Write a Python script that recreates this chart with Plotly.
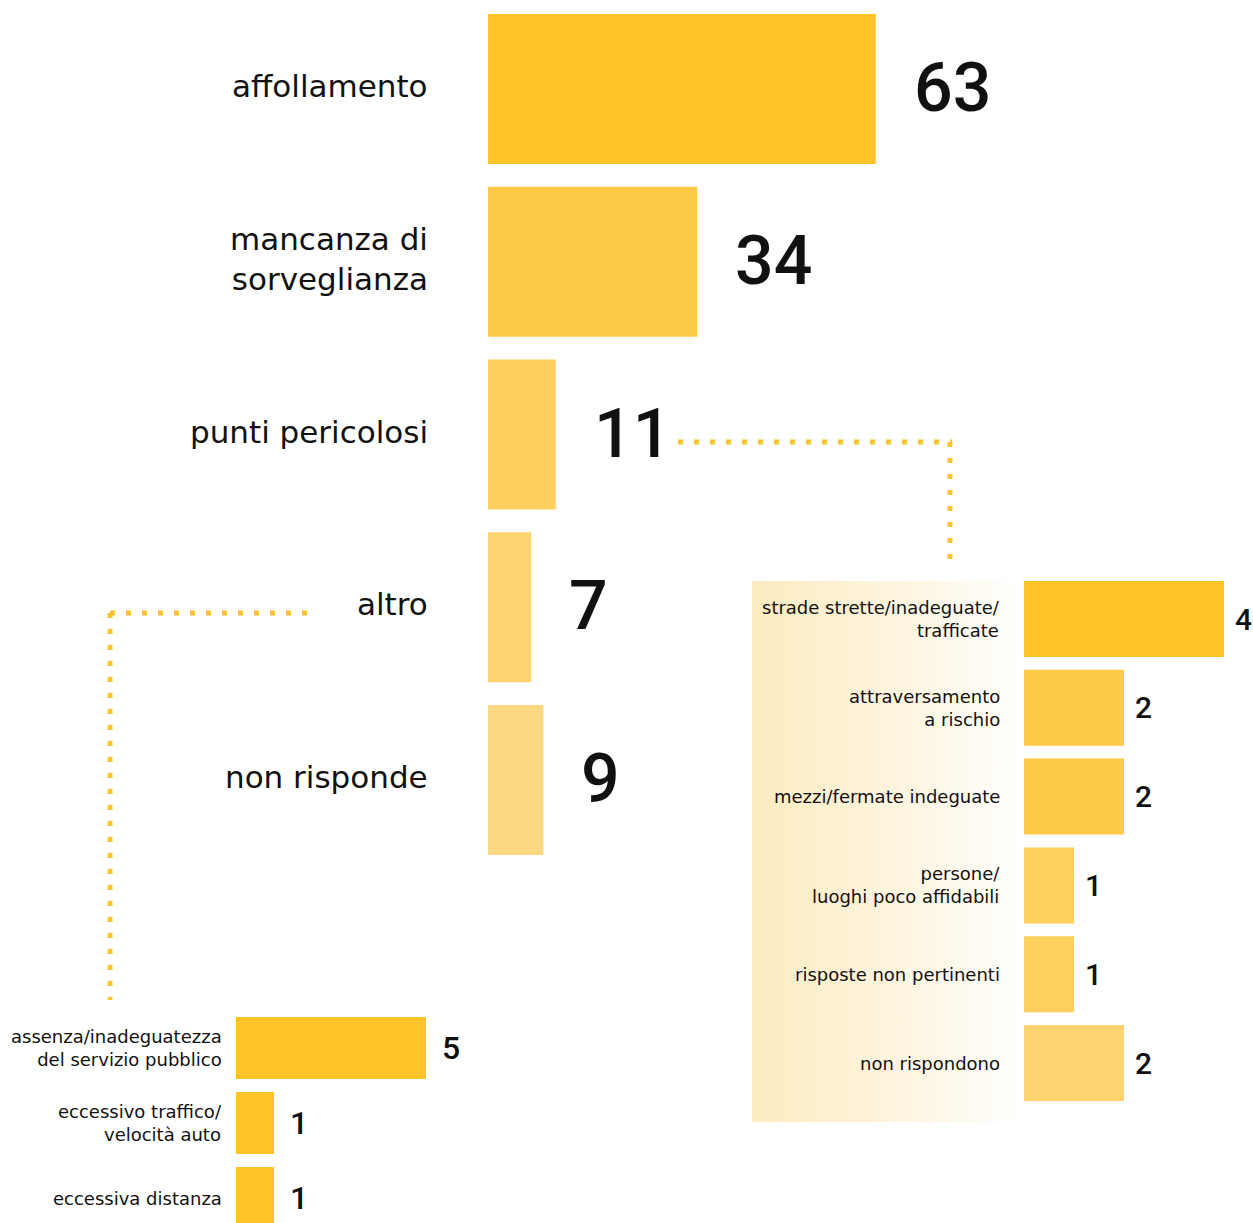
import plotly.graph_objects as go

W, H = 1253, 1223

# ---------------- data ----------------
main_categories = ["affollamento", "mancanza di sorveglianza", "punti pericolosi", "altro", "non risponde"]
main_labels = ["affollamento", "mancanza di<br>sorveglianza", "punti pericolosi", "altro", "non risponde"]
main_values = [63, 34, 11, 7, 9]
main_colors = ["#FDC329", "#FECA46", "#FECF5C", "#FDD470", "#FCD883"]

pp_categories = ["strade strette/inadeguate/trafficate", "attraversamento a rischio",
                 "mezzi/fermate indeguate", "persone/luoghi poco affidabili",
                 "risposte non pertinenti", "non rispondono"]
pp_labels = ["strade strette/inadeguate/<br>trafficate", "attraversamento<br>a rischio",
             "mezzi/fermate indeguate", "persone/<br>luoghi poco affidabili",
             "risposte non pertinenti", "non rispondono"]
pp_values = [4, 2, 2, 1, 1, 2]
pp_colors = ["#FDC329", "#FECA48", "#FECA48", "#FED05E", "#FED05E", "#FDD372"]

alt_categories = ["assenza/inadeguatezza del servizio pubblico",
                  "eccessivo traffico/velocità auto", "eccessiva distanza"]
alt_labels = ["assenza/inadeguatezza<br>del servizio pubblico",
              "eccessivo traffico/<br>velocità auto", "eccessiva distanza"]
alt_values = [5, 1, 1]
alt_colors = ["#FDC329", "#FDC329", "#FDC329"]

# ---------------- style ----------------
LABEL_FONT = "DejaVu Sans, Roboto, sans-serif"
NUM_FONT = "Roboto, DejaVu Sans Condensed, sans-serif"
TXT = "#111111"
DOT = "#FDC329"


def px(x):
    return x / W


def py(y):
    return 1 - y / H


fig = go.Figure()

# gradient background panel (decoration, pixel axes x/y)
fig.add_trace(go.Scatter(
    x=[752, 1024, 1024, 752, 752], y=[581, 581, 1122, 1122, 581],
    mode="lines", fill="toself", line=dict(width=0),
    fillgradient=dict(type="horizontal",
                      colorscale=[[0, "#FDEBC0"], [0.55, "#FEF5E0"], [1, "#FFFFFF"]]),
    hoverinfo="skip", showlegend=False, xaxis="x", yaxis="y"))

# main chart
fig.add_trace(go.Bar(orientation="h", x=main_values, y=main_categories,
                     marker=dict(color=main_colors, line=dict(width=0)),
                     width=0.868, xaxis="x2", yaxis="y2", showlegend=False))
# right detail chart
fig.add_trace(go.Bar(orientation="h", x=pp_values, y=pp_categories,
                     marker=dict(color=pp_colors, line=dict(width=0)),
                     width=0.856, xaxis="x3", yaxis="y3", showlegend=False))
# bottom-left detail chart
fig.add_trace(go.Bar(orientation="h", x=alt_values, y=alt_categories,
                     marker=dict(color=alt_colors, line=dict(width=0)),
                     width=0.827, xaxis="x4", yaxis="y4", showlegend=False))

hidden = dict(visible=False, showgrid=False, zeroline=False, fixedrange=True)

fig.update_layout(
    width=W, height=H,
    margin=dict(l=0, r=0, t=0, b=0),
    paper_bgcolor="white", plot_bgcolor="rgba(0,0,0,0)",
    xaxis=dict(domain=[0, 1], range=[0, W], **hidden),
    yaxis=dict(domain=[0, 1], range=[H, 0], **hidden),
    xaxis2=dict(domain=[px(488), 1], range=[0, 765 / 6.155], anchor="y2", **hidden),
    yaxis2=dict(domain=[py(866.4), py(2.6)], anchor="x2", type="category",
                categoryorder="array", categoryarray=main_categories,
                range=[4.5, -0.5], **hidden),
    xaxis3=dict(domain=[px(1024), 1], range=[0, 229 / 50.0], anchor="y3", **hidden),
    yaxis3=dict(domain=[py(1107.4), py(574.6)], anchor="x3", type="category",
                categoryorder="array", categoryarray=pp_categories,
                range=[5.5, -0.5], **hidden),
    xaxis4=dict(domain=[px(236), px(700)], range=[0, 464 / 38.0], anchor="y4", **hidden),
    yaxis4=dict(domain=[0, py(1010.5)], anchor="x4", type="category",
                categoryorder="array", categoryarray=alt_categories,
                range=[2.333, -0.5], **hidden),
    showlegend=False,
)

ann = []
# main labels + values
for c, lab, v in zip(main_categories, main_labels, main_values):
    ann.append(dict(x=0, y=c, xref="x2", yref="y2", text=lab, showarrow=False,
                    xanchor="right", yanchor="middle", xshift=-58, yshift=3, align="right",
                    font=dict(family=LABEL_FONT, size=31, color=TXT)))
    ann.append(dict(x=v, y=c, xref="x2", yref="y2", text=str(v), showarrow=False,
                    xanchor="left", yanchor="middle", xshift=36, yshift=1,
                    font=dict(family=NUM_FONT, size=68, color=TXT, weight=500)))
# right labels + values
for c, lab, v in zip(pp_categories, pp_labels, pp_values):
    ann.append(dict(x=0, y=c, xref="x3", yref="y3", text=lab, showarrow=False,
                    xanchor="right", yanchor="middle", xshift=-22, align="right",
                    font=dict(family=LABEL_FONT, size=18, color=TXT)))
    ann.append(dict(x=v, y=c, xref="x3", yref="y3", text=str(v), showarrow=False,
                    xanchor="left", yanchor="middle", xshift=9,
                    font=dict(family=NUM_FONT, size=30, color=TXT, weight=500)))
# bottom-left labels + values
for c, lab, v in zip(alt_categories, alt_labels, alt_values):
    ann.append(dict(x=0, y=c, xref="x4", yref="y4", text=lab, showarrow=False,
                    xanchor="right", yanchor="middle", xshift=-12, align="right",
                    font=dict(family=LABEL_FONT, size=18, color=TXT)))
    ann.append(dict(x=v, y=c, xref="x4", yref="y4", text=str(v), showarrow=False,
                    xanchor="left", yanchor="middle", xshift=14,
                    font=dict(family=NUM_FONT, size=32, color=TXT, weight=500)))
fig.update_layout(annotations=ann)

# dotted connector lines (decoration, pixel axes)
dot_line = dict(color=DOT, width=5, dash="5px,11px")
connectors = [
    (678, 442, 952, 442), (950, 442, 950, 560),
    (110, 613, 316, 613), (110, 613, 110, 1000),
]
for x0, y0, x1, y1 in connectors:
    fig.add_shape(type="line", xref="x", yref="y", x0=x0, y0=y0, x1=x1, y1=y1,
                  line=dot_line, layer="above")

fig.write_html("out.html", config={"displayModeBar": False},
               post_script="document.body.style.margin='0';")
